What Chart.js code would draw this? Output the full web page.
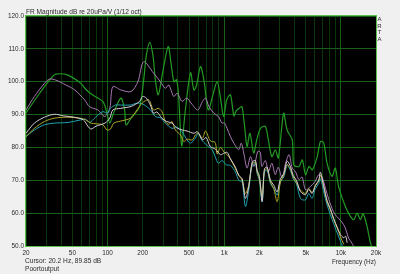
<!DOCTYPE html>
<html>
<head>
<meta charset="utf-8">
<script src="https://cdn.jsdelivr.net/npm/chart.js@4"></script>
<style>
  html, body { margin: 0; padding: 0; background: #f0f0f0; }
  #wrap { position: relative; width: 400px; height: 274px; font-family: "Liberation Sans", Arial, sans-serif; color: #2a2a2a; }
  .lbl { position: absolute; font-size: 6.6px; line-height: 1; white-space: nowrap; }
  .arta { position: absolute; left: 377px; top: 16px; font-size: 6px; line-height: 6.6px; text-align: center; width: 5px; }
</style>
</head>
<body>
<div id="wrap">
  <canvas id="fr"></canvas>
  <div class="lbl" style="left:26px;top:8.5px">FR Magnitude dB re 20uPa/V (1/12 oct)</div>
  <div class="lbl" style="left:25px;top:257.5px">Cursor: 20.2 Hz, 89.85 dB</div>
  <div class="lbl" style="left:25px;top:266px">Poortoutput</div>
  <div class="arta">A<br>R<br>T<br>A</div>
</div>
<script>
// tick labels
const xLabelValues = [20, 50, 100, 200, 500, 1000, 2000, 5000, 10000, 20000];
const xLabelText = ['20', '50', '100', '200', '500', '1k', '2k', '5k', '10k', '20k'];

// measured curves (Hz / dB)
const greenFreq = [20, 25, 32.7, 36, 45.7, 59, 65, 74, 91, 99, 104.5, 111, 130, 140, 144, 159, 188, 204, 215, 230, 245, 257, 272, 294, 331, 352, 371, 390, 406, 432, 460, 514, 550, 580, 626, 670, 730, 800, 870, 920, 990, 1050, 1130, 1210, 1260, 1350, 1420, 1490, 1570, 1660, 1790, 1900, 2045, 2250, 2390, 2560, 2740, 2910, 3230, 3460, 3830, 3950, 4370, 4670, 4980, 5330, 5690, 6270, 6680, 7130, 7610, 8390, 8960, 9560, 10920, 12070, 12930, 13780, 14700, 15500, 16750, 17900, 18700];
const greenDb = [90.5, 95.5, 101, 102.3, 102, 99.5, 97.7, 96, 94, 90.4, 87.4, 89.9, 95, 91.4, 86.9, 88.9, 92.4, 100.5, 108, 112, 108, 100.5, 96, 102, 110.7, 105, 100, 100.6, 96, 80.5, 90, 102.7, 97.5, 99, 104.6, 100.5, 91.4, 96, 100, 96, 89.4, 94.5, 96, 89.6, 91, 92, 92.4, 86.9, 80.3, 84.3, 78.3, 82.3, 85.8, 86.4, 82.3, 77.2, 79.3, 76.8, 90.4, 85.3, 82.3, 74.7, 74.2, 76.2, 71.7, 74.2, 73.2, 77.2, 81.8, 81.4, 75.2, 71.2, 73.7, 68.1, 62, 59, 58, 60, 58, 59.8, 56, 51, 49];

const purpleFreq = [20, 23.6, 28.8, 31.8, 36, 44, 52.3, 63.5, 70, 82.6, 94.7, 104.5, 111, 130, 159, 182, 204, 248, 284, 313, 335, 369, 395, 434, 478, 533, 594, 652, 692, 740, 816, 892, 957, 1000, 1058, 1130, 1210, 1330, 1400, 1470, 1570, 1680, 1800, 1940, 2040, 2100, 2250, 2400, 2560, 2740, 2900, 3140, 3360, 3600, 3830, 4100, 4370, 4650, 4980, 5480, 6000, 6450, 6900, 7370, 7890, 8620, 9200, 10100, 10920, 11630, 12420, 12800];
const purpleDb = [91.4, 95.5, 99.5, 100.8, 100.5, 99, 97.5, 94.5, 92.4, 91.4, 89.4, 91.9, 98.5, 97.5, 97, 100, 106.1, 102.6, 100, 98, 99, 95.5, 96.5, 94, 95, 93, 91.4, 94, 95, 92.4, 90.4, 89.4, 87.4, 87.5, 85.8, 83.3, 81.3, 79.3, 81.3, 78.3, 73.7, 77.2, 74.2, 78.8, 78.5, 74.2, 76, 72.7, 75.2, 71.7, 74, 70.7, 75.2, 77.8, 73.7, 72.5, 70.2, 71, 67.1, 68.1, 69.6, 71.7, 71, 67.6, 64.1, 60.5, 59, 57.5, 55.5, 52.4, 50.9, 50];

const whiteFreq = [20, 23.6, 28.8, 35, 42, 52, 62, 68, 72, 80, 95, 104.5, 111, 130, 160, 188, 200, 215, 233, 248, 265, 292, 320, 357, 390, 437, 480, 550, 590, 650, 700, 760, 840, 930, 1000, 1060, 1131, 1248, 1332, 1424, 1520, 1622, 1735, 1852, 1915, 2004, 2114, 2212, 2332, 2490, 2657, 2842, 3034, 3238, 3462, 3696, 3898, 4160, 4500, 4966, 5300, 5670, 6050, 6456, 6678, 7126, 7621, 8134, 8680, 9283, 9910, 10574, 11000, 11310];
const whiteDb = [84.3, 87.4, 89.2, 90.1, 89.6, 89.2, 88.4, 86.4, 85.6, 86.5, 87.4, 88.9, 91.4, 91.9, 92.5, 94, 95.5, 95, 92.9, 90.4, 90.8, 88.9, 87.9, 87.4, 86, 85.3, 85, 84.3, 84.8, 82.3, 83, 80.3, 79.5, 77.8, 78.3, 78.5, 76.5, 74, 71.5, 70.5, 64.5, 68, 75.5, 76, 73, 71.2, 63.5, 73.5, 74, 70, 68.5, 66.5, 70.5, 72, 75.8, 74.2, 71.5, 70, 66.6, 65.6, 67.2, 66, 68.5, 70, 72.5, 68.3, 63.8, 61.3, 58.3, 55.8, 53.5, 52.5, 53, 51];

const yellowFreq = [20, 23.6, 28.8, 35, 46, 60, 65, 72, 80, 91, 99, 106, 113, 129, 157, 179, 198, 225, 248, 272, 292, 313, 335, 357, 381, 422, 450, 480, 533, 566, 600, 650, 692, 760, 836, 870, 929, 1000, 1058, 1131, 1248, 1332, 1424, 1520, 1622, 1735, 1852, 1915, 2004, 2114, 2212, 2332, 2490, 2657, 2842, 3034, 3238, 3462, 3696, 3898, 4160, 4500, 4966, 5300, 5670, 6050, 6456, 6678, 7126, 7621, 8134, 8680, 9283, 9910, 10574];
const yellowDb = [83.3, 85.8, 87.9, 88.9, 89.2, 88.8, 88.4, 87.4, 87.2, 86.9, 85.3, 85.6, 87.4, 88, 88.9, 91.4, 93.5, 94.5, 91.4, 91.9, 91, 87.9, 87, 87.9, 85.3, 83.8, 81.8, 82.5, 82.3, 83.8, 84.3, 82.8, 85, 82, 81.5, 78, 80, 78.5, 77.8, 76.5, 73.5, 71.5, 70, 66, 68.5, 75, 75.5, 72.5, 70.5, 65, 73, 73.5, 69.5, 67.5, 63.5, 69.5, 71.5, 74.8, 73.5, 71, 69.3, 67, 66, 67.5, 66.3, 68.3, 69.8, 71.5, 68, 63.3, 61, 58, 55.5, 52.8, 50.5];

const cyanFreq = [20, 23.6, 28.8, 35, 46, 59, 65, 70, 79, 91, 100, 106, 117, 129, 157, 182, 205, 233, 257, 284, 313, 357, 390, 434, 480, 514, 566, 600, 650, 730, 790, 836, 890, 960, 1040, 1131, 1248, 1332, 1424, 1520, 1622, 1735, 1852, 1915, 2004, 2114, 2212, 2332, 2490, 2657, 2842, 3034, 3238, 3462, 3696, 3898, 4160, 4500, 4966, 5300, 5670, 6050, 6456, 6678, 7126, 7621, 8134, 8680, 9283, 9910, 10300];
const cyanDb = [83.3, 85.3, 86.9, 87.4, 87.6, 88.4, 88.6, 87.6, 89.2, 90.9, 90.4, 91.9, 92.9, 92.9, 92.9, 93.5, 93, 91.4, 89.4, 89, 87.4, 85.8, 86.2, 84.8, 82.3, 81.3, 82.8, 84.3, 82, 80.3, 79.3, 77.2, 75.2, 76, 74.7, 74.5, 72.5, 70, 69.5, 62, 67, 74.5, 75, 72, 70, 63.5, 72.5, 73, 69, 67.5, 65.5, 69.5, 71, 74.5, 73, 70.5, 69, 64.5, 64, 66, 64.5, 67.5, 69, 70.5, 66.5, 62.5, 59.5, 56.8, 54, 51.5, 50];

// 1-2-3...9 gridlines per decade, 20 Hz .. 20 kHz
const xGridTicks = [];
[10, 100, 1000, 10000].forEach(d => {
  for (let m = 1; m <= 9; m++) {
    const v = m * d;
    if (v >= 20 && v <= 20000) xGridTicks.push(v);
  }
});

const toPoints = (freq, db) => freq.map((f, i) => ({ x: f, y: db[i] }));

const line = (data, color, width) => ({
  data: data,
  borderColor: color,
  borderWidth: width,
  pointRadius: 0,
  tension: 0.3,
  fill: false
});

// black plot area + light green frame
const plotFrame = {
  id: 'plotFrame',
  beforeDraw(chart) {
    const { ctx, chartArea: a } = chart;
    ctx.save();
    ctx.fillStyle = '#000';
    ctx.fillRect(a.left, a.top, a.right - a.left, a.bottom - a.top);
    ctx.restore();
  },
  afterDraw(chart) {
    const { ctx, chartArea: a } = chart;
    ctx.save();
    ctx.strokeStyle = '#5cbf4c';
    ctx.lineWidth = 1;
    ctx.strokeRect(Math.round(a.left) - 0.5, Math.round(a.top) - 0.5, Math.round(a.right - a.left) + 1, Math.round(a.bottom - a.top) + 1);
    ctx.restore();
  }
};

const tickFont = { family: '"Liberation Sans", Arial, sans-serif', size: 6.4 };
const majorGrid = 'rgb(25, 95, 25)';
const minorGrid = 'rgb(10, 55, 10)';

new Chart(document.getElementById('fr'), {
  type: 'line',
  data: {
    datasets: [
      line(toPoints(whiteFreq, whiteDb), '#d6ccd6', 1),
      line(toPoints(yellowFreq, yellowDb), '#b0a62a', 1),
      line(toPoints(cyanFreq, cyanDb), '#1fa3b3', 1),
      line(toPoints(purpleFreq, purpleDb), '#a878b4', 1),
      line(toPoints(greenFreq, greenDb), '#239a23', 1.2)
    ]
  },
  options: {
    responsive: true,
    maintainAspectRatio: false,
    animation: false,
    layout: { padding: { top: 16, right: 24, bottom: 8, left: 0 } },
    plugins: {
      legend: { display: false },
      tooltip: { enabled: false }
    },
    scales: {
      x: {
        type: 'logarithmic',
        min: 20,
        max: 20000,
        afterBuildTicks: scale => { scale.ticks = xGridTicks.map(v => ({ value: v })); },
        afterFit: scale => { scale.height = 20; },
        ticks: {
          autoSkip: false,
          maxRotation: 0,
          padding: 3,
          color: '#2a2a2a',
          font: tickFont,
          callback: v => {
            const i = xLabelValues.indexOf(v);
            return i >= 0 ? xLabelText[i] : '';
          }
        },
        grid: {
          drawTicks: false,
          lineWidth: 1,
          color: c => ([100, 1000, 10000].includes(c.tick && c.tick.value) ? majorGrid : minorGrid)
        },
        border: { display: false },
        title: {
          display: true,
          text: 'Frequency (Hz)',
          align: 'end',
          color: '#2a2a2a',
          font: tickFont,
          padding: 0
        }
      },
      y: {
        min: 50,
        max: 120,
        afterFit: scale => { scale.width = 26; },
        ticks: {
          stepSize: 10,
          padding: 2,
          color: '#2a2a2a',
          font: tickFont,
          callback: v => v.toFixed(1)
        },
        grid: { drawTicks: false, lineWidth: 1, color: majorGrid },
        border: { display: false }
      }
    }
  },
  plugins: [plotFrame]
});
</script>
</body>
</html>
